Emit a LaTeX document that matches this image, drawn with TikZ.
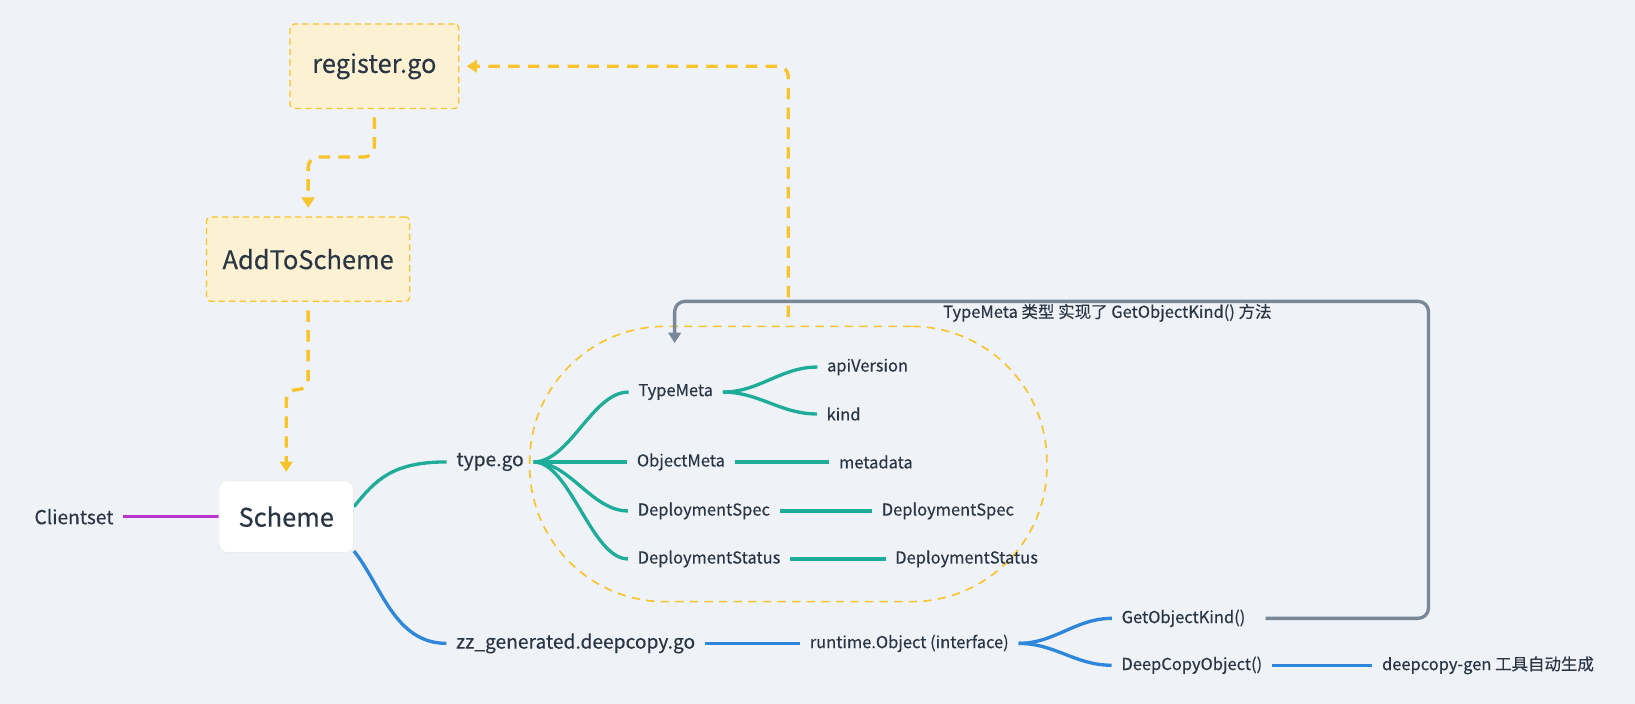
\documentclass[tikz,border=0pt]{standalone}
\usepackage{fontspec}
\setmainfont{Noto Sans CJK SC}[FakeBold=0.35]
\usetikzlibrary{arrows.meta,calc}
\definecolor{cbg}{HTML}{EFF3F7}
\definecolor{ctxt}{HTML}{2A3644}
\definecolor{cyel}{HTML}{F8C42B}
\definecolor{cyfill}{HTML}{FDF1D3}
\definecolor{cteal}{HTML}{1FAD9A}
\definecolor{cblue}{HTML}{2F87DB}
\definecolor{cpurple}{HTML}{BA36CF}
\definecolor{cgray}{HTML}{788896}
\pgfdeclarelayer{bgl}
\pgfdeclarelayer{edges}
\pgfsetlayers{bgl,edges,main}
\begin{document}
\begin{tikzpicture}[x=0.5pt,y=-0.5pt,
  lbl/.style={inner xsep=4.5pt, inner ysep=2pt, text=ctxt},
  smalltxt/.style={lbl, font=\fontsize{7.9pt}{9.5pt}\selectfont},
  midtxt/.style={lbl, font=\fontsize{9.2pt}{11pt}\selectfont},
  bigbox/.style={font=\fontsize{12.2pt}{14.5pt}\selectfont, text=ctxt, rounded corners=2pt, minimum height=40.5pt, inner sep=0pt},
  ybox/.style={bigbox, draw=cyel, fill=cyfill, line width=0.6pt, dash pattern=on 3pt off 2pt},
  wbox/.style={bigbox, fill=white, draw=black!7, line width=0.4pt, rounded corners=4pt, minimum height=34.5pt, minimum width=64.5pt},
  branch/.style={line width=1.6pt},
  tealln/.style={branch, draw=cteal},
  blueln/.style={branch, draw=cblue},
  purpln/.style={branch, draw=cpurple},
  yarrow/.style={draw=cyel, line width=1.6pt, dash pattern=on 5.5pt off 4pt, rounded corners=5pt, -{Triangle[width=6pt,length=5pt]}},
  garrow/.style={draw=cgray, line width=1.6pt, rounded corners=5pt, -{Triangle[width=6pt,length=5pt]}},
  grpbox/.style={draw=cyel, line width=0.8pt, dash pattern=on 4pt off 3pt, minimum width=248pt, minimum height=132pt, rounded corners=65pt, inner sep=0pt}
]
\begin{pgfonlayer}{bgl}
  \fill[cbg] (0,0) rectangle (1568,675);
  \node[grpbox] (grp) at (756,445) {};
\end{pgfonlayer}

% main boxes
\node[ybox, minimum width=81pt] (register) at (359,63.5) {register.go};
\node[ybox, minimum width=97.5pt] (addto) at (295.5,248.5) {AddToScheme};
\node[wbox] (scheme) at (274.5,495.5) {Scheme};
\node[midtxt] (client) at (71,495.5) {Clientset};

% level 1
\node[midtxt] (typego) at (470,443) {type.go};
\node[midtxt] (zz) at (552,617) {zz\_generated.deepcopy.go};

% type.go children
\node[smalltxt] (typemeta) at (648,376) {TypeMeta};
\node[smalltxt] (objectmeta) at (653,443) {ObjectMeta};
\node[smalltxt] (dspec) at (675,490) {DeploymentSpec};
\node[smalltxt] (dstatus) at (680,536) {DeploymentStatus};
\node[smalltxt] (apiv) at (832,352) {apiVersion};
\node[smalltxt] (kind) at (809,397) {kind};
\node[smalltxt] (metadata) at (840,443) {metadata};
\node[smalltxt] (dspecb) at (909,490) {DeploymentSpec};
\node[smalltxt] (dstatusb) at (927,536) {DeploymentStatus};

% deepcopy children
\node[smalltxt] (rto) at (872,617) {runtime.Object (interface)};
\node[smalltxt] (getok) at (1135,593) {GetObjectKind()};
\node[smalltxt] (dcobj) at (1143,638) {DeepCopyObject()};
\node[smalltxt] (dcgen) at (1427,638) {deepcopy-gen 工具自动生成};

\node[smalltxt] (glabel) at (1062,300) {TypeMeta 类型 实现了 GetObjectKind() 方法};
\coordinate (gtip) at (647,329);

\begin{pgfonlayer}{edges}
  \draw[tealln] ([yshift=4.75pt]scheme.east) .. controls +(21,-26) and +(-52,0) .. (typego.west);
  \draw[blueln] ([yshift=1pt]scheme.south east) .. controls +(26,32) and +(-50,0) .. (zz.west);
  \draw[purpln] (client.east) -- (scheme.west);

  \draw[tealln] (typego.east) .. controls +(35,0) and +(-35,0) .. (typemeta.west);
  \draw[tealln] (typego.east) -- (objectmeta.west);
  \draw[tealln] (typego.east) .. controls +(35,0) and +(-35,0) .. (dspec.west);
  \draw[tealln] (typego.east) .. controls +(35,0) and +(-35,0) .. (dstatus.west);
  \draw[tealln] (typemeta.east) .. controls +(35,0) and +(-35,0) .. (apiv.west);
  \draw[tealln] (typemeta.east) .. controls +(35,0) and +(-35,0) .. (kind.west);
  \draw[tealln] (objectmeta.east) -- (metadata.west);
  \draw[tealln] (dspec.east) -- (dspecb.west);
  \draw[tealln] (dstatus.east) -- (dstatusb.west);

  \draw[blueln] (zz.east) -- (rto.west);
  \draw[blueln] (rto.east) .. controls +(35,0) and +(-35,0) .. (getok.west);
  \draw[blueln] (rto.east) .. controls +(35,0) and +(-35,0) .. (dcobj.west);
  \draw[blueln] (dcobj.east) -- (dcgen.west);

  \draw[yarrow, shorten <=4pt, shorten >=4pt] (register.south) -- ++(0,46) -| (addto.north);
  \draw[yarrow, shorten <=4pt, shorten >=4pt] (addto.south) -- ++(0,84) -| (scheme.north);
  \draw[yarrow, shorten <=4pt, shorten >=3.5pt] (grp.north) |- (register.east);
  \draw[garrow, shorten <=5pt] (getok.east) -| (1370,289) -| (gtip);
\end{pgfonlayer}
\end{tikzpicture}
\end{document}
